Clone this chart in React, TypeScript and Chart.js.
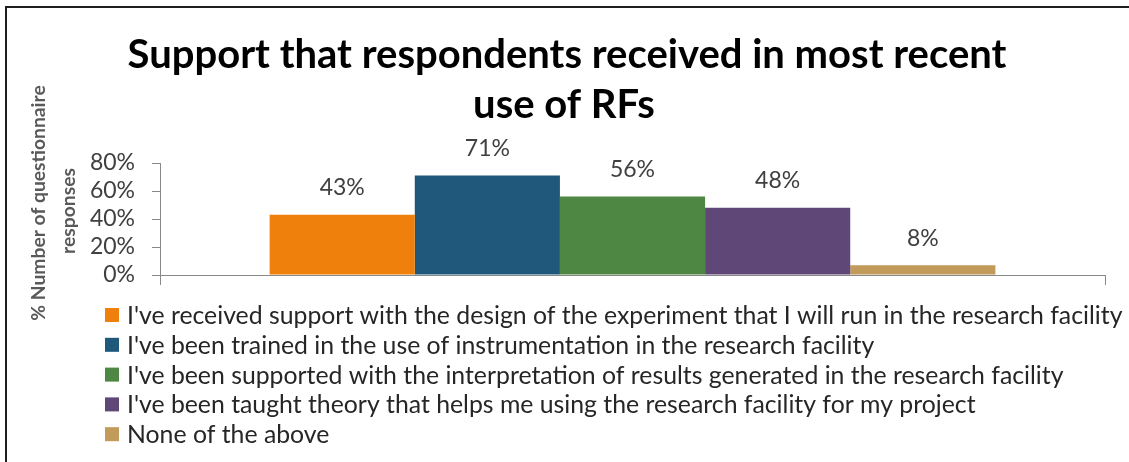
import React, { useEffect, useRef } from "react";
import { Chart, registerables } from "chart.js";

Chart.register(...registerables);

const categories = [""];
const seriesLabels = [
  "I've received support with the design of the experiment that I will run in the research facility",
  "I've been trained in the use of instrumentation in the research facility",
  "I've been supported with the interpretation of results generated in the research facility",
  "I've been taught theory that helps me using the research facility for my project",
  "None of the above",
];
const seriesValues = [43, 71, 56, 48, 7];
const valueLabels = ["43%", "71%", "56%", "48%", "8%"];
const seriesColors = ["#EF800B", "#1F587A", "#4E8643", "#5F4878", "#C29A5A"];
const titleLines = ["Support that respondents received in most recent", "use of RFs"];
const yTitleLines = ["% Number of questionnaire", "responses"];
const yMin = 0;
const yMax = 80;
const yStep = 20;

const FONT = "Lato, 'Open Sans', sans-serif";

const decorPlugin = {
  id: "decor",
  afterDatasetsDraw(chart: any) {
    const ctx = chart.ctx;
    ctx.save();
    ctx.font = `23px ${FONT}`;
    ctx.fillStyle = "#404040";
    ctx.textAlign = "center";
    ctx.textBaseline = "middle";
    chart.data.datasets.forEach((ds: any, i: number) => {
      const meta = chart.getDatasetMeta(i);
      const el = meta.data[0];
      if (!el) return;
      ctx.fillText(valueLabels[i], el.x, el.y - 27);
    });
    ctx.restore();
  },
  afterDraw(chart: any) {
    const ctx = chart.ctx;
    ctx.save();
    // Title
    ctx.font = `bold 40px ${FONT}`;
    ctx.fillStyle = "#000000";
    ctx.textAlign = "center";
    ctx.textBaseline = "alphabetic";
    ctx.fillText(titleLines[0], 567, 68);
    ctx.fillText(titleLines[1], 564, 118);

    // Y axis title (rotated)
    ctx.font = `bold 19.3px ${FONT}`;
    ctx.fillStyle = "#595959";
    const yPos = [
      { x: 45, y: 203 },
      { x: 75, y: 211 },
    ];
    yTitleLines.forEach((t, i) => {
      ctx.save();
      ctx.translate(yPos[i].x, yPos[i].y);
      ctx.rotate(-Math.PI / 2);
      ctx.textAlign = "center";
      ctx.textBaseline = "alphabetic";
      ctx.fillText(t, 0, 0);
      ctx.restore();
    });

    // Legend
    ctx.font = `24.8px ${FONT}`;
    ctx.textAlign = "left";
    ctx.textBaseline = "middle";
    chart.data.datasets.forEach((ds: any, i: number) => {
      const cy = 315 + i * 29.8;
      ctx.fillStyle = ds.backgroundColor;
      ctx.fillRect(105, cy - 7, 14, 14);
      ctx.fillStyle = "#262626";
      ctx.fillText(ds.label, 127, cy + 1);
    });
    ctx.restore();
  },
};

export default function App() {
  const canvasRef = useRef<HTMLCanvasElement | null>(null);

  useEffect(() => {
    if (!canvasRef.current) return;
    const chart = new Chart(canvasRef.current, {
      type: "bar",
      data: {
        labels: categories,
        datasets: seriesLabels.map((label, i) => ({
          label,
          data: [seriesValues[i]],
          backgroundColor: seriesColors[i],
          borderWidth: 0,
          categoryPercentage: 0.768,
          barPercentage: 1,
        })),
      },
      options: {
        responsive: false,
        animation: false,
        devicePixelRatio: 1,
        layout: { padding: { left: 0, top: 163, right: 24, bottom: 177 } },
        plugins: {
          legend: { display: false },
          title: { display: false },
          tooltip: { enabled: false },
        },
        scales: {
          x: {
            type: "category",
            offset: true,
            grid: {
              offset: true,
              drawOnChartArea: false,
              drawTicks: true,
              tickLength: 10,
              color: "#898989",
              lineWidth: 1,
            },
            border: { display: true, color: "#898989", width: 1 },
            ticks: { display: false },
            afterFit: (s: any) => {
              s.height = 10;
            },
          },
          y: {
            min: yMin,
            max: yMax,
            ticks: {
              stepSize: yStep,
              autoSkip: false,
              maxTicksLimit: 20,
              padding: 17,
              color: "#404040",
              font: { family: FONT, size: 23, lineHeight: 1 },
              callback: (v: any) => `${v}%`,
            },
            grid: {
              drawOnChartArea: false,
              drawTicks: true,
              tickLength: 8,
              color: "#898989",
            },
            border: { display: true, color: "#898989", width: 1 },
            afterFit: (s: any) => {
              s.width = 160;
            },
          },
        },
      },
      plugins: [decorPlugin],
    } as any);
    return () => chart.destroy();
  }, []);

  return (
    <div
      style={{
        position: "absolute",
        left: 0,
        top: 0,
        width: 1129,
        height: 462,
        overflow: "hidden",
        background: "#ffffff",
      }}
    >
      <canvas
        ref={canvasRef}
        width={1129}
        height={462}
        style={{ position: "absolute", left: 0, top: 0, display: "block" }}
      />
      <div
        style={{
          position: "absolute",
          left: 5,
          top: 6,
          width: 1300,
          height: 700,
          border: "2px solid #1e1e1e",
          pointerEvents: "none",
        }}
      />
    </div>
  );
}
